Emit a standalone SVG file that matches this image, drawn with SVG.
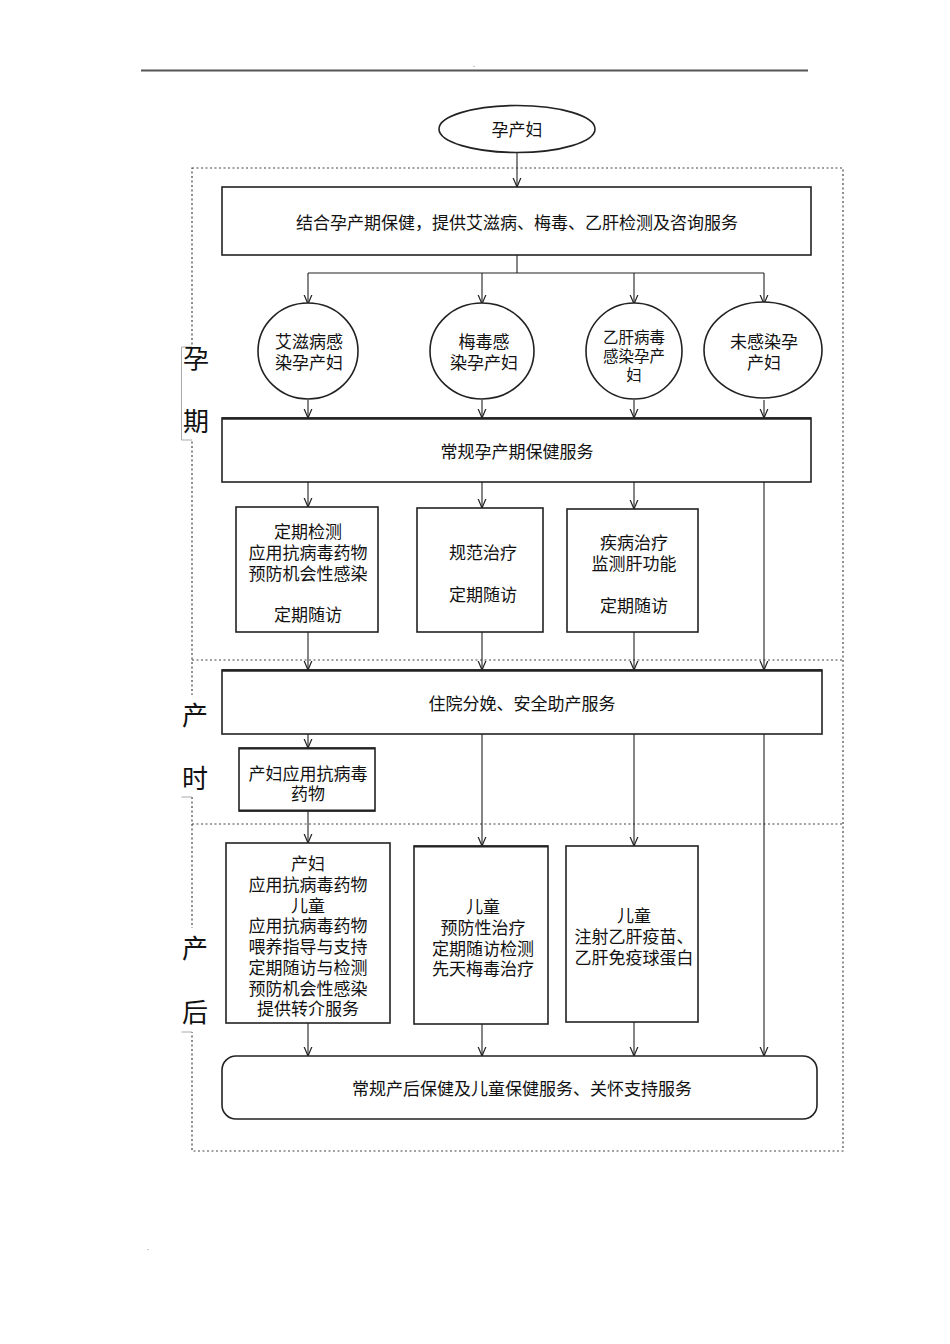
<svg xmlns="http://www.w3.org/2000/svg" width="950" height="1344" viewBox="0 0 950 1344">
<style>
.bx{fill:#fff;stroke:#222;stroke-width:1.6}
.t{font-family:"Liberation Sans","Noto Sans CJK SC",sans-serif;font-size:17px;fill:#111;text-anchor:middle;dominant-baseline:central}
.s{font-size:15.5px}
.lab{font-family:"Liberation Serif","Noto Sans CJK SC",serif;font-size:26px;fill:#111;text-anchor:middle;dominant-baseline:central}
.c{stroke:#222;stroke-width:1.1;fill:none}
.ca{stroke:#222;stroke-width:1.1;fill:none;marker-end:url(#ah)}
.frame{stroke:#444;stroke-width:1.2;fill:none;stroke-dasharray:2 2.5}
.tick{stroke:#aaa;stroke-width:1;fill:none}
</style>
<defs>
<marker id="ah" viewBox="0 0 10 10" refX="9.5" refY="5" markerWidth="10" markerHeight="10" markerUnits="userSpaceOnUse" orient="auto">
<path d="M0,1 L9.5,5 L0,9" fill="none" stroke="#222" stroke-width="1.2"/>
</marker>
</defs>
<rect width="950" height="1344" fill="#fff"/>
<line x1="141" y1="70.5" x2="808" y2="70.5" stroke="#555" stroke-width="2"/>
<text x="474" y="67" font-family="Liberation Sans,sans-serif" font-size="7" fill="#333" text-anchor="middle">.</text>
<text x="148" y="1250" font-family="Liberation Sans,sans-serif" font-size="7" fill="#333" text-anchor="middle">.</text>

<g id="frame">
<path class="frame" d="M192,168 H843 V1151 H192 Z"/>
<line class="frame" x1="192" y1="660" x2="843" y2="660"/>
<line class="frame" x1="192" y1="824" x2="843" y2="824"/>
</g>

<g id="labels">
<rect x="182" y="347" width="32" height="93" fill="#fff"/>
<path class="tick" d="M192,347 H181.5 V440 H192"/>
<text class="lab" x="196" y="359">孕</text>
<text class="lab" x="196" y="422">期</text>
<rect x="182" y="695" width="32" height="102" fill="#fff"/>
<path class="tick" d="M181.5,797 H192"/>
<text class="lab" x="195" y="716">产</text>
<text class="lab" x="195" y="779">时</text>
<rect x="182" y="928" width="32" height="104" fill="#fff"/>
<path class="tick" d="M181.5,1032 H192"/>
<text class="lab" x="195" y="949">产</text>
<text class="lab" x="195" y="1013">后</text>
</g>

<g id="connectors">
<line class="ca" x1="517" y1="152" x2="517" y2="187"/>
<line class="c" x1="517" y1="255" x2="517" y2="273"/>
<line class="c" x1="308" y1="273" x2="764" y2="273"/>
<line class="ca" x1="308" y1="273" x2="308" y2="304"/>
<line class="ca" x1="482" y1="273" x2="482" y2="304"/>
<line class="ca" x1="634" y1="273" x2="634" y2="304"/>
<line class="ca" x1="764" y1="273" x2="764" y2="304"/>
<line class="ca" x1="308" y1="400" x2="308" y2="418"/>
<line class="ca" x1="482" y1="400" x2="482" y2="418"/>
<line class="ca" x1="634" y1="400" x2="634" y2="418"/>
<line class="ca" x1="764" y1="400" x2="764" y2="418"/>
<line class="ca" x1="308" y1="482" x2="308" y2="507"/>
<line class="ca" x1="482" y1="482" x2="482" y2="508"/>
<line class="ca" x1="634" y1="482" x2="634" y2="509"/>
<line class="ca" x1="764" y1="482" x2="764" y2="670"/>
<line class="ca" x1="308" y1="632" x2="308" y2="670"/>
<line class="ca" x1="482" y1="632" x2="482" y2="670"/>
<line class="ca" x1="634" y1="632" x2="634" y2="670"/>
<line class="ca" x1="308" y1="734" x2="308" y2="748"/>
<line class="ca" x1="308" y1="811" x2="308" y2="843"/>
<line class="ca" x1="482" y1="734" x2="482" y2="846"/>
<line class="ca" x1="634" y1="734" x2="634" y2="846"/>
<line class="ca" x1="308" y1="1023" x2="308" y2="1056"/>
<line class="ca" x1="482" y1="1024" x2="482" y2="1056"/>
<line class="ca" x1="634" y1="1022" x2="634" y2="1056"/>
<line class="ca" x1="764" y1="734" x2="764" y2="1056"/>
</g>

<g id="start">
<ellipse class="bx" cx="517" cy="129" rx="78" ry="23.5" stroke-width="1.4"/>
<text class="t" x="517" y="130.5">孕产妇</text>
</g>

<g id="screening">
<rect class="bx" x="222" y="187" width="589" height="68"/>
<text class="t" x="517" y="223.5">结合孕产期保健，提供艾滋病、梅毒、乙肝检测及咨询服务</text>
</g>

<g id="hiv">
<ellipse class="bx" cx="308" cy="351" rx="50" ry="48" stroke-width="1.4"/>
<text class="t"><tspan x="309" y="341.5">艾滋病感</tspan><tspan x="309" y="362.5">染孕产妇</tspan></text>
</g>
<g id="syphilis">
<ellipse class="bx" cx="482" cy="351" rx="52" ry="48" stroke-width="1.4"/>
<text class="t"><tspan x="484" y="341.5">梅毒感</tspan><tspan x="484" y="362.5">染孕产妇</tspan></text>
</g>
<g id="hbv">
<ellipse class="bx" cx="634" cy="351" rx="48" ry="48" stroke-width="1.4"/>
<text class="t s"><tspan x="634" y="336.5">乙肝病毒</tspan><tspan x="634" y="355.5">感染孕产</tspan><tspan x="634" y="374.5">妇</tspan></text>
</g>
<g id="uninfected">
<ellipse class="bx" cx="763" cy="350" rx="59" ry="48" stroke-width="1.4"/>
<text class="t"><tspan x="764" y="341.5">未感染孕</tspan><tspan x="764" y="362.5">产妇</tspan></text>
</g>

<g id="prenatal">
<rect class="bx" x="222" y="418" width="589" height="64"/>
<line x1="222" y1="418.5" x2="811" y2="418.5" stroke="#222" stroke-width="2.4"/>
<text class="t" x="517" y="452.5">常规孕产期保健服务</text>
</g>

<g id="hiv-care">
<rect class="bx" x="236" y="507" width="142" height="125"/>
<text class="t"><tspan x="308" y="531.5">定期检测</tspan><tspan x="308" y="552.5">应用抗病毒药物</tspan><tspan x="308" y="573.5">预防机会性感染</tspan><tspan x="308" y="614.5">定期随访</tspan></text>
</g>
<g id="syphilis-care">
<rect class="bx" x="417" y="508" width="126" height="124"/>
<text class="t"><tspan x="483" y="552.5">规范治疗</tspan><tspan x="483" y="594.5">定期随访</tspan></text>
</g>
<g id="hbv-care">
<rect class="bx" x="567" y="509" width="131" height="123"/>
<text class="t"><tspan x="634" y="542.5">疾病治疗</tspan><tspan x="634" y="563.5">监测肝功能</tspan><tspan x="634" y="605.5">定期随访</tspan></text>
</g>

<g id="delivery">
<rect class="bx" x="222" y="670" width="600" height="64"/>
<line x1="222" y1="670.5" x2="822" y2="670.5" stroke="#222" stroke-width="2.4"/>
<text class="t" x="522" y="704.5">住院分娩、安全助产服务</text>
</g>

<g id="intrapartum-arv">
<rect class="bx" x="239" y="748" width="136" height="63"/>
<line x1="239" y1="748.5" x2="375" y2="748.5" stroke="#222" stroke-width="2.2"/>
<line x1="239" y1="810.5" x2="375" y2="810.5" stroke="#222" stroke-width="2.2"/>
<text class="t"><tspan x="308" y="773.5">产妇应用抗病毒</tspan><tspan x="308" y="793.5">药物</tspan></text>
</g>

<g id="hiv-postnatal">
<rect class="bx" x="226" y="843" width="164" height="180"/>
<text class="t"><tspan x="308" y="863.5">产妇</tspan><tspan x="308" y="884.5">应用抗病毒药物</tspan><tspan x="308" y="905.5">儿童</tspan><tspan x="308" y="925.5">应用抗病毒药物</tspan><tspan x="308" y="946.5">喂养指导与支持</tspan><tspan x="308" y="967.5">定期随访与检测</tspan><tspan x="308" y="988.5">预防机会性感染</tspan><tspan x="308" y="1008.5">提供转介服务</tspan></text>
</g>
<g id="syphilis-postnatal">
<rect class="bx" x="414" y="846" width="134" height="178"/>
<line x1="414" y1="846.5" x2="548" y2="846.5" stroke="#222" stroke-width="2.2"/>
<text class="t"><tspan x="483" y="906.5">儿童</tspan><tspan x="483" y="927.5">预防性治疗</tspan><tspan x="483" y="948.5">定期随访检测</tspan><tspan x="483" y="968.5">先天梅毒治疗</tspan></text>
</g>
<g id="hbv-postnatal">
<rect class="bx" x="566" y="846" width="132" height="176"/>
<text class="t"><tspan x="634" y="915.5">儿童</tspan><tspan x="634" y="936.5">注射乙肝疫苗、</tspan><tspan x="634" y="957.5">乙肝免疫球蛋白</tspan></text>
</g>

<g id="postnatal">
<rect class="bx" x="222" y="1056" width="595" height="63" rx="14" ry="14"/>
<text class="t" x="522" y="1089.5">常规产后保健及儿童保健服务、关怀支持服务</text>
</g>
</svg>
